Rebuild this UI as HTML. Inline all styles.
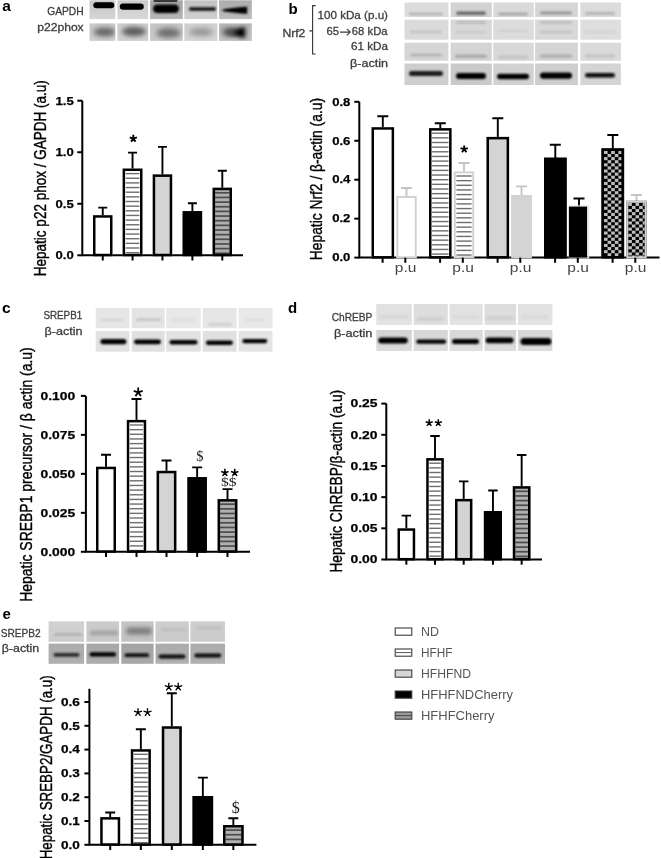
<!DOCTYPE html>
<html><head><meta charset="utf-8"><title>Figure</title><style>
html,body{margin:0;padding:0;background:#fff;width:661px;height:858px;overflow:hidden;}
svg{display:block;filter:blur(0.45px);}
text{font-family:"Liberation Sans",sans-serif;}
</style></head><body>
<svg width="661" height="858" viewBox="0 0 661 858">
<rect width="661" height="858" fill="#fff"/>
<defs>
<filter id="bl0_6" x="-50%" y="-100%" width="200%" height="300%"><feGaussianBlur stdDeviation="0.6"/></filter>
<filter id="bl0_8" x="-50%" y="-100%" width="200%" height="300%"><feGaussianBlur stdDeviation="0.8"/></filter>
<filter id="bl1" x="-50%" y="-100%" width="200%" height="300%"><feGaussianBlur stdDeviation="1"/></filter>
<filter id="bl1_2" x="-50%" y="-100%" width="200%" height="300%"><feGaussianBlur stdDeviation="1.2"/></filter>
<filter id="bl1_5" x="-50%" y="-100%" width="200%" height="300%"><feGaussianBlur stdDeviation="1.5"/></filter>
<filter id="bl1_8" x="-50%" y="-100%" width="200%" height="300%"><feGaussianBlur stdDeviation="1.8"/></filter>
<filter id="bl2" x="-50%" y="-100%" width="200%" height="300%"><feGaussianBlur stdDeviation="2"/></filter>
<filter id="bl2_5" x="-50%" y="-100%" width="200%" height="300%"><feGaussianBlur stdDeviation="2.5"/></filter>
<filter id="bl3" x="-50%" y="-100%" width="200%" height="300%"><feGaussianBlur stdDeviation="3"/></filter>
</defs>
<text x="2.2" y="11.3" font-size="15.5" text-anchor="start" font-weight="bold" fill="#000" >a</text>
<text x="288.6" y="13.6" font-size="15" text-anchor="start" font-weight="bold" fill="#000" >b</text>
<text x="2" y="312.6" font-size="15.5" text-anchor="start" font-weight="bold" fill="#000" >c</text>
<text x="2.5" y="618.8" font-size="15" text-anchor="start" font-weight="bold" fill="#000" >e</text>
<text x="288" y="312.9" font-size="15" text-anchor="start" font-weight="bold" fill="#000" >d</text>
<path d="M82.3 100.7V255.3H243" stroke="#000" stroke-width="2" fill="none"/><path d="M77.3 100.7H82.3" stroke="#000" stroke-width="2"/><text x="73.7" y="104.5" font-size="11.5" text-anchor="end" font-weight="bold" fill="#000" textLength="18.2" lengthAdjust="spacingAndGlyphs" stroke="#000" stroke-width="0.25">1.5</text><path d="M77.3 152.23H82.3" stroke="#000" stroke-width="2"/><text x="73.7" y="156.03" font-size="11.5" text-anchor="end" font-weight="bold" fill="#000" textLength="18.2" lengthAdjust="spacingAndGlyphs" stroke="#000" stroke-width="0.25">1.0</text><path d="M77.3 203.77H82.3" stroke="#000" stroke-width="2"/><text x="73.7" y="207.56" font-size="11.5" text-anchor="end" font-weight="bold" fill="#000" textLength="18.2" lengthAdjust="spacingAndGlyphs" stroke="#000" stroke-width="0.25">0.5</text><path d="M77.3 255.3H82.3" stroke="#000" stroke-width="2"/><text x="73.7" y="259.1" font-size="11.5" text-anchor="end" font-weight="bold" fill="#000" textLength="18.2" lengthAdjust="spacingAndGlyphs" stroke="#000" stroke-width="0.25">0.0</text>
<path d="M102.75 216.2V207.6M98.25 207.6H107.25" stroke="#000" stroke-width="1.9" fill="none"/>
<rect x="93" y="215.2" width="19.5" height="40.1" fill="#fff"/><rect x="94.25" y="216.45" width="17" height="38.55" fill="none" stroke="#000" stroke-width="2.5"/>
<path d="M132.55 169.5V152.6M128.05 152.6H137.05" stroke="#000" stroke-width="1.9" fill="none"/>
<rect x="122.6" y="168.5" width="19.9" height="86.8" fill="#fff"/><rect x="125.7" y="172.9" width="13.7" height="1.4" fill="#6e6e6e"/><rect x="125.7" y="177.55" width="13.7" height="1.4" fill="#6e6e6e"/><rect x="125.7" y="182.2" width="13.7" height="1.4" fill="#6e6e6e"/><rect x="125.7" y="186.85" width="13.7" height="1.4" fill="#6e6e6e"/><rect x="125.7" y="191.5" width="13.7" height="1.4" fill="#6e6e6e"/><rect x="125.7" y="196.15" width="13.7" height="1.4" fill="#6e6e6e"/><rect x="125.7" y="200.8" width="13.7" height="1.4" fill="#6e6e6e"/><rect x="125.7" y="205.45" width="13.7" height="1.4" fill="#6e6e6e"/><rect x="125.7" y="210.1" width="13.7" height="1.4" fill="#6e6e6e"/><rect x="125.7" y="214.75" width="13.7" height="1.4" fill="#6e6e6e"/><rect x="125.7" y="219.4" width="13.7" height="1.4" fill="#6e6e6e"/><rect x="125.7" y="224.05" width="13.7" height="1.4" fill="#6e6e6e"/><rect x="125.7" y="228.7" width="13.7" height="1.4" fill="#6e6e6e"/><rect x="125.7" y="233.35" width="13.7" height="1.4" fill="#6e6e6e"/><rect x="125.7" y="238" width="13.7" height="1.4" fill="#6e6e6e"/><rect x="125.7" y="242.65" width="13.7" height="1.4" fill="#6e6e6e"/><rect x="125.7" y="247.3" width="13.7" height="1.4" fill="#6e6e6e"/><rect x="125.7" y="251.95" width="13.7" height="1.4" fill="#6e6e6e"/><rect x="123.85" y="169.75" width="17.4" height="85.25" fill="none" stroke="#000" stroke-width="2.5"/>
<path d="M162.45 175.4V146.9M157.95 146.9H166.95" stroke="#000" stroke-width="1.9" fill="none"/>
<rect x="152.7" y="174.4" width="19.5" height="80.9" fill="#d4d4d4"/><rect x="153.95" y="175.65" width="17" height="79.35" fill="none" stroke="#000" stroke-width="2.5"/>
<path d="M192.4 212.2V203.3M187.9 203.3H196.9" stroke="#000" stroke-width="1.9" fill="none"/>
<rect x="182.7" y="211.2" width="19.4" height="44.1" fill="#000"/><rect x="183.95" y="212.45" width="16.9" height="42.55" fill="none" stroke="#000" stroke-width="2.5"/>
<path d="M222.3 188.7V170.8M217.8 170.8H226.8" stroke="#000" stroke-width="1.9" fill="none"/>
<rect x="212.6" y="187.7" width="19.4" height="67.6" fill="#b0b0b0"/><rect x="215.1" y="191.95" width="14.4" height="1.7" fill="#4c4c4c"/><rect x="215.1" y="196.6" width="14.4" height="1.7" fill="#4c4c4c"/><rect x="215.1" y="201.25" width="14.4" height="1.7" fill="#4c4c4c"/><rect x="215.1" y="205.9" width="14.4" height="1.7" fill="#4c4c4c"/><rect x="215.1" y="210.55" width="14.4" height="1.7" fill="#4c4c4c"/><rect x="215.1" y="215.2" width="14.4" height="1.7" fill="#4c4c4c"/><rect x="215.1" y="219.85" width="14.4" height="1.7" fill="#4c4c4c"/><rect x="215.1" y="224.5" width="14.4" height="1.7" fill="#4c4c4c"/><rect x="215.1" y="229.15" width="14.4" height="1.7" fill="#4c4c4c"/><rect x="215.1" y="233.8" width="14.4" height="1.7" fill="#4c4c4c"/><rect x="215.1" y="238.45" width="14.4" height="1.7" fill="#4c4c4c"/><rect x="215.1" y="243.1" width="14.4" height="1.7" fill="#4c4c4c"/><rect x="215.1" y="247.75" width="14.4" height="1.7" fill="#4c4c4c"/><rect x="215.1" y="252.4" width="14.4" height="1.7" fill="#4c4c4c"/><rect x="213.85" y="188.95" width="16.9" height="66.05" fill="none" stroke="#000" stroke-width="2.5"/>
<path d="M102.75 255.3V260.5" stroke="#000" stroke-width="2"/><path d="M132.55 255.3V260.5" stroke="#000" stroke-width="2"/><path d="M162.45 255.3V260.5" stroke="#000" stroke-width="2"/><path d="M192.4 255.3V260.5" stroke="#000" stroke-width="2"/><path d="M222.3 255.3V260.5" stroke="#000" stroke-width="2"/>
<path d="M133.3 138.6L133.3 134.8M133.3 138.6L136.91 137.43M133.3 138.6L135.53 141.67M133.3 138.6L131.07 141.67M133.3 138.6L129.69 137.43" stroke="#000" stroke-width="1.9" stroke-linecap="butt" fill="none"/>
<text transform="translate(45.7 276.2) rotate(-90)" x="0" y="0" font-size="16" text-anchor="start" font-weight="normal" fill="#000" stroke="#000" stroke-width="0.38" textLength="196" lengthAdjust="spacingAndGlyphs">Hepatic p22 phox / GAPDH (a.u)</text>
<path d="M359.3 101.8V257.6H659.5" stroke="#000" stroke-width="2" fill="none"/><path d="M354.3 101.8H359.3" stroke="#000" stroke-width="2"/><text x="350.4" y="105.59" font-size="11.5" text-anchor="end" font-weight="bold" fill="#000" textLength="18.2" lengthAdjust="spacingAndGlyphs" stroke="#000" stroke-width="0.25">0.8</text><path d="M354.3 140.75H359.3" stroke="#000" stroke-width="2"/><text x="350.4" y="144.54" font-size="11.5" text-anchor="end" font-weight="bold" fill="#000" textLength="18.2" lengthAdjust="spacingAndGlyphs" stroke="#000" stroke-width="0.25">0.6</text><path d="M354.3 179.7H359.3" stroke="#000" stroke-width="2"/><text x="350.4" y="183.49" font-size="11.5" text-anchor="end" font-weight="bold" fill="#000" textLength="18.2" lengthAdjust="spacingAndGlyphs" stroke="#000" stroke-width="0.25">0.4</text><path d="M354.3 218.65H359.3" stroke="#000" stroke-width="2"/><text x="350.4" y="222.44" font-size="11.5" text-anchor="end" font-weight="bold" fill="#000" textLength="18.2" lengthAdjust="spacingAndGlyphs" stroke="#000" stroke-width="0.25">0.2</text><path d="M354.3 257.6H359.3" stroke="#000" stroke-width="2"/><text x="350.4" y="261.4" font-size="11.5" text-anchor="end" font-weight="bold" fill="#000" textLength="18.2" lengthAdjust="spacingAndGlyphs" stroke="#000" stroke-width="0.25">0.0</text>
<path d="M406.5 196.9V188M401 188H412" stroke="#c4c4c4" stroke-width="1.9" fill="none"/>
<rect x="396.3" y="195.9" width="20.4" height="61.7" fill="#fff"/><rect x="397.3" y="196.9" width="18.4" height="60.4" fill="none" stroke="#d2d2d2" stroke-width="2"/>
<path d="M382.8 128.2V116.3M377.3 116.3H388.3" stroke="#000" stroke-width="1.9" fill="none"/>
<rect x="371.5" y="127.2" width="22.6" height="130.4" fill="#fff"/><rect x="372.75" y="128.45" width="20.1" height="128.85" fill="none" stroke="#000" stroke-width="2.5"/>
<path d="M464 172.4V163M458.5 163H469.5" stroke="#c4c4c4" stroke-width="1.9" fill="none"/>
<rect x="453.8" y="171.4" width="20.4" height="86.2" fill="#fff"/><rect x="456.4" y="175.3" width="15.2" height="1.4" fill="#6e6e6e"/><rect x="456.4" y="179.95" width="15.2" height="1.4" fill="#6e6e6e"/><rect x="456.4" y="184.6" width="15.2" height="1.4" fill="#6e6e6e"/><rect x="456.4" y="189.25" width="15.2" height="1.4" fill="#6e6e6e"/><rect x="456.4" y="193.9" width="15.2" height="1.4" fill="#6e6e6e"/><rect x="456.4" y="198.55" width="15.2" height="1.4" fill="#6e6e6e"/><rect x="456.4" y="203.2" width="15.2" height="1.4" fill="#6e6e6e"/><rect x="456.4" y="207.85" width="15.2" height="1.4" fill="#6e6e6e"/><rect x="456.4" y="212.5" width="15.2" height="1.4" fill="#6e6e6e"/><rect x="456.4" y="217.15" width="15.2" height="1.4" fill="#6e6e6e"/><rect x="456.4" y="221.8" width="15.2" height="1.4" fill="#6e6e6e"/><rect x="456.4" y="226.45" width="15.2" height="1.4" fill="#6e6e6e"/><rect x="456.4" y="231.1" width="15.2" height="1.4" fill="#6e6e6e"/><rect x="456.4" y="235.75" width="15.2" height="1.4" fill="#6e6e6e"/><rect x="456.4" y="240.4" width="15.2" height="1.4" fill="#6e6e6e"/><rect x="456.4" y="245.05" width="15.2" height="1.4" fill="#6e6e6e"/><rect x="456.4" y="249.7" width="15.2" height="1.4" fill="#6e6e6e"/><rect x="456.4" y="254.35" width="15.2" height="1.4" fill="#6e6e6e"/><rect x="454.8" y="172.4" width="18.4" height="84.9" fill="none" stroke="#d2d2d2" stroke-width="2"/>
<path d="M440.3 129.1V123.2M434.8 123.2H445.8" stroke="#000" stroke-width="1.9" fill="none"/>
<rect x="429" y="128.1" width="22.6" height="129.5" fill="#fff"/><rect x="432.1" y="132.5" width="16.4" height="1.4" fill="#6e6e6e"/><rect x="432.1" y="137.15" width="16.4" height="1.4" fill="#6e6e6e"/><rect x="432.1" y="141.8" width="16.4" height="1.4" fill="#6e6e6e"/><rect x="432.1" y="146.45" width="16.4" height="1.4" fill="#6e6e6e"/><rect x="432.1" y="151.1" width="16.4" height="1.4" fill="#6e6e6e"/><rect x="432.1" y="155.75" width="16.4" height="1.4" fill="#6e6e6e"/><rect x="432.1" y="160.4" width="16.4" height="1.4" fill="#6e6e6e"/><rect x="432.1" y="165.05" width="16.4" height="1.4" fill="#6e6e6e"/><rect x="432.1" y="169.7" width="16.4" height="1.4" fill="#6e6e6e"/><rect x="432.1" y="174.35" width="16.4" height="1.4" fill="#6e6e6e"/><rect x="432.1" y="179" width="16.4" height="1.4" fill="#6e6e6e"/><rect x="432.1" y="183.65" width="16.4" height="1.4" fill="#6e6e6e"/><rect x="432.1" y="188.3" width="16.4" height="1.4" fill="#6e6e6e"/><rect x="432.1" y="192.95" width="16.4" height="1.4" fill="#6e6e6e"/><rect x="432.1" y="197.6" width="16.4" height="1.4" fill="#6e6e6e"/><rect x="432.1" y="202.25" width="16.4" height="1.4" fill="#6e6e6e"/><rect x="432.1" y="206.9" width="16.4" height="1.4" fill="#6e6e6e"/><rect x="432.1" y="211.55" width="16.4" height="1.4" fill="#6e6e6e"/><rect x="432.1" y="216.2" width="16.4" height="1.4" fill="#6e6e6e"/><rect x="432.1" y="220.85" width="16.4" height="1.4" fill="#6e6e6e"/><rect x="432.1" y="225.5" width="16.4" height="1.4" fill="#6e6e6e"/><rect x="432.1" y="230.15" width="16.4" height="1.4" fill="#6e6e6e"/><rect x="432.1" y="234.8" width="16.4" height="1.4" fill="#6e6e6e"/><rect x="432.1" y="239.45" width="16.4" height="1.4" fill="#6e6e6e"/><rect x="432.1" y="244.1" width="16.4" height="1.4" fill="#6e6e6e"/><rect x="432.1" y="248.75" width="16.4" height="1.4" fill="#6e6e6e"/><rect x="432.1" y="253.4" width="16.4" height="1.4" fill="#6e6e6e"/><rect x="430.25" y="129.35" width="20.1" height="127.95" fill="none" stroke="#000" stroke-width="2.5"/>
<path d="M521.5 196V186.4M516 186.4H527" stroke="#c4c4c4" stroke-width="1.9" fill="none"/>
<rect x="511.3" y="195" width="20.4" height="62.6" fill="#d4d4d4"/><rect x="512.3" y="196" width="18.4" height="61.3" fill="none" stroke="#d2d2d2" stroke-width="2"/>
<path d="M497.8 137.9V118.2M492.3 118.2H503.3" stroke="#000" stroke-width="1.9" fill="none"/>
<rect x="486.5" y="136.9" width="22.6" height="120.7" fill="#d4d4d4"/><rect x="487.75" y="138.15" width="20.1" height="119.15" fill="none" stroke="#000" stroke-width="2.5"/>
<path d="M579 207.6V198.5M573.5 198.5H584.5" stroke="#000" stroke-width="1.9" fill="none"/>
<rect x="569.5" y="206" width="19" height="51.6" fill="none" stroke="#e6e6e6" stroke-width="1.4"/>
<rect x="568.9" y="206.6" width="18.2" height="51" fill="#000"/>
<path d="M555.3 158.7V144.8M549.8 144.8H560.8" stroke="#000" stroke-width="1.9" fill="none"/>
<rect x="544" y="157.7" width="22.6" height="99.9" fill="#000"/><rect x="545.25" y="158.95" width="20.1" height="98.35" fill="none" stroke="#000" stroke-width="2.5"/>
<path d="M636.5 201.8V195M631 195H642" stroke="#c4c4c4" stroke-width="1.9" fill="none"/>
<rect x="626.3" y="200.8" width="20.4" height="56.8" fill="#000"/><rect x="628.3" y="202.8" width="16.4" height="54.8" fill="#000"/><rect x="628.3" y="202.8" width="3.6" height="3.1" fill="#bdbdbd"/><rect x="635.5" y="202.8" width="3.6" height="3.1" fill="#bdbdbd"/><rect x="642.7" y="202.8" width="2" height="3.1" fill="#bdbdbd"/><rect x="631.9" y="205.9" width="3.6" height="3.1" fill="#bdbdbd"/><rect x="639.1" y="205.9" width="3.6" height="3.1" fill="#bdbdbd"/><rect x="628.3" y="209" width="3.6" height="3.1" fill="#bdbdbd"/><rect x="635.5" y="209" width="3.6" height="3.1" fill="#bdbdbd"/><rect x="642.7" y="209" width="2" height="3.1" fill="#bdbdbd"/><rect x="631.9" y="212.1" width="3.6" height="3.1" fill="#bdbdbd"/><rect x="639.1" y="212.1" width="3.6" height="3.1" fill="#bdbdbd"/><rect x="628.3" y="215.2" width="3.6" height="3.1" fill="#bdbdbd"/><rect x="635.5" y="215.2" width="3.6" height="3.1" fill="#bdbdbd"/><rect x="642.7" y="215.2" width="2" height="3.1" fill="#bdbdbd"/><rect x="631.9" y="218.3" width="3.6" height="3.1" fill="#bdbdbd"/><rect x="639.1" y="218.3" width="3.6" height="3.1" fill="#bdbdbd"/><rect x="628.3" y="221.4" width="3.6" height="3.1" fill="#bdbdbd"/><rect x="635.5" y="221.4" width="3.6" height="3.1" fill="#bdbdbd"/><rect x="642.7" y="221.4" width="2" height="3.1" fill="#bdbdbd"/><rect x="631.9" y="224.5" width="3.6" height="3.1" fill="#bdbdbd"/><rect x="639.1" y="224.5" width="3.6" height="3.1" fill="#bdbdbd"/><rect x="628.3" y="227.6" width="3.6" height="3.1" fill="#bdbdbd"/><rect x="635.5" y="227.6" width="3.6" height="3.1" fill="#bdbdbd"/><rect x="642.7" y="227.6" width="2" height="3.1" fill="#bdbdbd"/><rect x="631.9" y="230.7" width="3.6" height="3.1" fill="#bdbdbd"/><rect x="639.1" y="230.7" width="3.6" height="3.1" fill="#bdbdbd"/><rect x="628.3" y="233.8" width="3.6" height="3.1" fill="#bdbdbd"/><rect x="635.5" y="233.8" width="3.6" height="3.1" fill="#bdbdbd"/><rect x="642.7" y="233.8" width="2" height="3.1" fill="#bdbdbd"/><rect x="631.9" y="236.9" width="3.6" height="3.1" fill="#bdbdbd"/><rect x="639.1" y="236.9" width="3.6" height="3.1" fill="#bdbdbd"/><rect x="628.3" y="240" width="3.6" height="3.1" fill="#bdbdbd"/><rect x="635.5" y="240" width="3.6" height="3.1" fill="#bdbdbd"/><rect x="642.7" y="240" width="2" height="3.1" fill="#bdbdbd"/><rect x="631.9" y="243.1" width="3.6" height="3.1" fill="#bdbdbd"/><rect x="639.1" y="243.1" width="3.6" height="3.1" fill="#bdbdbd"/><rect x="628.3" y="246.2" width="3.6" height="3.1" fill="#bdbdbd"/><rect x="635.5" y="246.2" width="3.6" height="3.1" fill="#bdbdbd"/><rect x="642.7" y="246.2" width="2" height="3.1" fill="#bdbdbd"/><rect x="631.9" y="249.3" width="3.6" height="3.1" fill="#bdbdbd"/><rect x="639.1" y="249.3" width="3.6" height="3.1" fill="#bdbdbd"/><rect x="628.3" y="252.4" width="3.6" height="3.1" fill="#bdbdbd"/><rect x="635.5" y="252.4" width="3.6" height="3.1" fill="#bdbdbd"/><rect x="642.7" y="252.4" width="2" height="3.1" fill="#bdbdbd"/><rect x="631.9" y="255.5" width="3.6" height="2.1" fill="#bdbdbd"/><rect x="639.1" y="255.5" width="3.6" height="2.1" fill="#bdbdbd"/><rect x="627.3" y="201.8" width="18.4" height="55.5" fill="none" stroke="#d2d2d2" stroke-width="2"/>
<path d="M612.8 149.4V135M607.3 135H618.3" stroke="#000" stroke-width="1.9" fill="none"/>
<rect x="601.5" y="148.4" width="22.6" height="109.2" fill="#000"/><rect x="604" y="150.9" width="17.6" height="106.7" fill="#000"/><rect x="604" y="150.9" width="3.6" height="3.1" fill="#bdbdbd"/><rect x="611.2" y="150.9" width="3.6" height="3.1" fill="#bdbdbd"/><rect x="618.4" y="150.9" width="3.2" height="3.1" fill="#bdbdbd"/><rect x="607.6" y="154" width="3.6" height="3.1" fill="#bdbdbd"/><rect x="614.8" y="154" width="3.6" height="3.1" fill="#bdbdbd"/><rect x="604" y="157.1" width="3.6" height="3.1" fill="#bdbdbd"/><rect x="611.2" y="157.1" width="3.6" height="3.1" fill="#bdbdbd"/><rect x="618.4" y="157.1" width="3.2" height="3.1" fill="#bdbdbd"/><rect x="607.6" y="160.2" width="3.6" height="3.1" fill="#bdbdbd"/><rect x="614.8" y="160.2" width="3.6" height="3.1" fill="#bdbdbd"/><rect x="604" y="163.3" width="3.6" height="3.1" fill="#bdbdbd"/><rect x="611.2" y="163.3" width="3.6" height="3.1" fill="#bdbdbd"/><rect x="618.4" y="163.3" width="3.2" height="3.1" fill="#bdbdbd"/><rect x="607.6" y="166.4" width="3.6" height="3.1" fill="#bdbdbd"/><rect x="614.8" y="166.4" width="3.6" height="3.1" fill="#bdbdbd"/><rect x="604" y="169.5" width="3.6" height="3.1" fill="#bdbdbd"/><rect x="611.2" y="169.5" width="3.6" height="3.1" fill="#bdbdbd"/><rect x="618.4" y="169.5" width="3.2" height="3.1" fill="#bdbdbd"/><rect x="607.6" y="172.6" width="3.6" height="3.1" fill="#bdbdbd"/><rect x="614.8" y="172.6" width="3.6" height="3.1" fill="#bdbdbd"/><rect x="604" y="175.7" width="3.6" height="3.1" fill="#bdbdbd"/><rect x="611.2" y="175.7" width="3.6" height="3.1" fill="#bdbdbd"/><rect x="618.4" y="175.7" width="3.2" height="3.1" fill="#bdbdbd"/><rect x="607.6" y="178.8" width="3.6" height="3.1" fill="#bdbdbd"/><rect x="614.8" y="178.8" width="3.6" height="3.1" fill="#bdbdbd"/><rect x="604" y="181.9" width="3.6" height="3.1" fill="#bdbdbd"/><rect x="611.2" y="181.9" width="3.6" height="3.1" fill="#bdbdbd"/><rect x="618.4" y="181.9" width="3.2" height="3.1" fill="#bdbdbd"/><rect x="607.6" y="185" width="3.6" height="3.1" fill="#bdbdbd"/><rect x="614.8" y="185" width="3.6" height="3.1" fill="#bdbdbd"/><rect x="604" y="188.1" width="3.6" height="3.1" fill="#bdbdbd"/><rect x="611.2" y="188.1" width="3.6" height="3.1" fill="#bdbdbd"/><rect x="618.4" y="188.1" width="3.2" height="3.1" fill="#bdbdbd"/><rect x="607.6" y="191.2" width="3.6" height="3.1" fill="#bdbdbd"/><rect x="614.8" y="191.2" width="3.6" height="3.1" fill="#bdbdbd"/><rect x="604" y="194.3" width="3.6" height="3.1" fill="#bdbdbd"/><rect x="611.2" y="194.3" width="3.6" height="3.1" fill="#bdbdbd"/><rect x="618.4" y="194.3" width="3.2" height="3.1" fill="#bdbdbd"/><rect x="607.6" y="197.4" width="3.6" height="3.1" fill="#bdbdbd"/><rect x="614.8" y="197.4" width="3.6" height="3.1" fill="#bdbdbd"/><rect x="604" y="200.5" width="3.6" height="3.1" fill="#bdbdbd"/><rect x="611.2" y="200.5" width="3.6" height="3.1" fill="#bdbdbd"/><rect x="618.4" y="200.5" width="3.2" height="3.1" fill="#bdbdbd"/><rect x="607.6" y="203.6" width="3.6" height="3.1" fill="#bdbdbd"/><rect x="614.8" y="203.6" width="3.6" height="3.1" fill="#bdbdbd"/><rect x="604" y="206.7" width="3.6" height="3.1" fill="#bdbdbd"/><rect x="611.2" y="206.7" width="3.6" height="3.1" fill="#bdbdbd"/><rect x="618.4" y="206.7" width="3.2" height="3.1" fill="#bdbdbd"/><rect x="607.6" y="209.8" width="3.6" height="3.1" fill="#bdbdbd"/><rect x="614.8" y="209.8" width="3.6" height="3.1" fill="#bdbdbd"/><rect x="604" y="212.9" width="3.6" height="3.1" fill="#bdbdbd"/><rect x="611.2" y="212.9" width="3.6" height="3.1" fill="#bdbdbd"/><rect x="618.4" y="212.9" width="3.2" height="3.1" fill="#bdbdbd"/><rect x="607.6" y="216" width="3.6" height="3.1" fill="#bdbdbd"/><rect x="614.8" y="216" width="3.6" height="3.1" fill="#bdbdbd"/><rect x="604" y="219.1" width="3.6" height="3.1" fill="#bdbdbd"/><rect x="611.2" y="219.1" width="3.6" height="3.1" fill="#bdbdbd"/><rect x="618.4" y="219.1" width="3.2" height="3.1" fill="#bdbdbd"/><rect x="607.6" y="222.2" width="3.6" height="3.1" fill="#bdbdbd"/><rect x="614.8" y="222.2" width="3.6" height="3.1" fill="#bdbdbd"/><rect x="604" y="225.3" width="3.6" height="3.1" fill="#bdbdbd"/><rect x="611.2" y="225.3" width="3.6" height="3.1" fill="#bdbdbd"/><rect x="618.4" y="225.3" width="3.2" height="3.1" fill="#bdbdbd"/><rect x="607.6" y="228.4" width="3.6" height="3.1" fill="#bdbdbd"/><rect x="614.8" y="228.4" width="3.6" height="3.1" fill="#bdbdbd"/><rect x="604" y="231.5" width="3.6" height="3.1" fill="#bdbdbd"/><rect x="611.2" y="231.5" width="3.6" height="3.1" fill="#bdbdbd"/><rect x="618.4" y="231.5" width="3.2" height="3.1" fill="#bdbdbd"/><rect x="607.6" y="234.6" width="3.6" height="3.1" fill="#bdbdbd"/><rect x="614.8" y="234.6" width="3.6" height="3.1" fill="#bdbdbd"/><rect x="604" y="237.7" width="3.6" height="3.1" fill="#bdbdbd"/><rect x="611.2" y="237.7" width="3.6" height="3.1" fill="#bdbdbd"/><rect x="618.4" y="237.7" width="3.2" height="3.1" fill="#bdbdbd"/><rect x="607.6" y="240.8" width="3.6" height="3.1" fill="#bdbdbd"/><rect x="614.8" y="240.8" width="3.6" height="3.1" fill="#bdbdbd"/><rect x="604" y="243.9" width="3.6" height="3.1" fill="#bdbdbd"/><rect x="611.2" y="243.9" width="3.6" height="3.1" fill="#bdbdbd"/><rect x="618.4" y="243.9" width="3.2" height="3.1" fill="#bdbdbd"/><rect x="607.6" y="247" width="3.6" height="3.1" fill="#bdbdbd"/><rect x="614.8" y="247" width="3.6" height="3.1" fill="#bdbdbd"/><rect x="604" y="250.1" width="3.6" height="3.1" fill="#bdbdbd"/><rect x="611.2" y="250.1" width="3.6" height="3.1" fill="#bdbdbd"/><rect x="618.4" y="250.1" width="3.2" height="3.1" fill="#bdbdbd"/><rect x="607.6" y="253.2" width="3.6" height="3.1" fill="#bdbdbd"/><rect x="614.8" y="253.2" width="3.6" height="3.1" fill="#bdbdbd"/><rect x="604" y="256.3" width="3.6" height="1.3" fill="#bdbdbd"/><rect x="611.2" y="256.3" width="3.6" height="1.3" fill="#bdbdbd"/><rect x="618.4" y="256.3" width="3.2" height="1.3" fill="#bdbdbd"/><rect x="602.75" y="149.65" width="20.1" height="107.65" fill="none" stroke="#000" stroke-width="2.5"/>
<path d="M382.6 257.6V262.8" stroke="#000" stroke-width="2"/><path d="M405.3 257.6V262.8" stroke="#000" stroke-width="2"/><path d="M440.1 257.6V262.8" stroke="#000" stroke-width="2"/><path d="M462.8 257.6V262.8" stroke="#000" stroke-width="2"/><path d="M497.6 257.6V262.8" stroke="#000" stroke-width="2"/><path d="M520.3 257.6V262.8" stroke="#000" stroke-width="2"/><path d="M555.1 257.6V262.8" stroke="#000" stroke-width="2"/><path d="M577.8 257.6V262.8" stroke="#000" stroke-width="2"/><path d="M612.6 257.6V262.8" stroke="#000" stroke-width="2"/><path d="M635.3 257.6V262.8" stroke="#000" stroke-width="2"/>
<text x="405.6" y="272.3" font-size="12.5" text-anchor="middle" font-weight="normal" fill="#444" textLength="21.6" lengthAdjust="spacingAndGlyphs">p.u</text>
<text x="463.1" y="272.3" font-size="12.5" text-anchor="middle" font-weight="normal" fill="#444" textLength="21.6" lengthAdjust="spacingAndGlyphs">p.u</text>
<text x="520.6" y="272.3" font-size="12.5" text-anchor="middle" font-weight="normal" fill="#444" textLength="21.6" lengthAdjust="spacingAndGlyphs">p.u</text>
<text x="578.1" y="272.3" font-size="12.5" text-anchor="middle" font-weight="normal" fill="#444" textLength="21.6" lengthAdjust="spacingAndGlyphs">p.u</text>
<text x="635.6" y="272.3" font-size="12.5" text-anchor="middle" font-weight="normal" fill="#444" textLength="21.6" lengthAdjust="spacingAndGlyphs">p.u</text>
<path d="M464.2 149.2L464.2 145.4M464.2 149.2L467.81 148.03M464.2 149.2L466.43 152.27M464.2 149.2L461.97 152.27M464.2 149.2L460.59 148.03" stroke="#000" stroke-width="1.9" stroke-linecap="butt" fill="none"/>
<text transform="translate(322.4 260.2) rotate(-90)" x="0" y="0" font-size="16" text-anchor="start" font-weight="normal" fill="#000" stroke="#000" stroke-width="0.38" textLength="162.2" lengthAdjust="spacingAndGlyphs">Hepatic Nrf2 / β-actin (a.u)</text>
<path d="M85.9 395.9V551.8H250" stroke="#000" stroke-width="2" fill="none"/><path d="M80.9 395.9H85.9" stroke="#000" stroke-width="2"/><text x="75.2" y="399.69" font-size="11.5" text-anchor="end" font-weight="bold" fill="#000" textLength="34.6" lengthAdjust="spacingAndGlyphs" stroke="#000" stroke-width="0.25">0.100</text><path d="M80.9 434.88H85.9" stroke="#000" stroke-width="2"/><text x="75.2" y="438.67" font-size="11.5" text-anchor="end" font-weight="bold" fill="#000" textLength="34.6" lengthAdjust="spacingAndGlyphs" stroke="#000" stroke-width="0.25">0.075</text><path d="M80.9 473.85H85.9" stroke="#000" stroke-width="2"/><text x="75.2" y="477.64" font-size="11.5" text-anchor="end" font-weight="bold" fill="#000" textLength="34.6" lengthAdjust="spacingAndGlyphs" stroke="#000" stroke-width="0.25">0.050</text><path d="M80.9 512.82H85.9" stroke="#000" stroke-width="2"/><text x="75.2" y="516.62" font-size="11.5" text-anchor="end" font-weight="bold" fill="#000" textLength="34.6" lengthAdjust="spacingAndGlyphs" stroke="#000" stroke-width="0.25">0.025</text><path d="M80.9 551.8H85.9" stroke="#000" stroke-width="2"/><text x="75.2" y="555.59" font-size="11.5" text-anchor="end" font-weight="bold" fill="#000" textLength="34.6" lengthAdjust="spacingAndGlyphs" stroke="#000" stroke-width="0.25">0.000</text>
<path d="M106 467.7V454.8M101 454.8H111" stroke="#000" stroke-width="1.9" fill="none"/>
<rect x="96" y="466.7" width="20" height="85.1" fill="#fff"/><rect x="97.25" y="467.95" width="17.5" height="83.55" fill="none" stroke="#000" stroke-width="2.5"/>
<path d="M136.5 420.9V399M131.5 399H141.5" stroke="#000" stroke-width="1.9" fill="none"/>
<rect x="126.8" y="419.9" width="19.4" height="131.9" fill="#fff"/><rect x="129.9" y="424.3" width="13.2" height="1.4" fill="#6e6e6e"/><rect x="129.9" y="428.95" width="13.2" height="1.4" fill="#6e6e6e"/><rect x="129.9" y="433.6" width="13.2" height="1.4" fill="#6e6e6e"/><rect x="129.9" y="438.25" width="13.2" height="1.4" fill="#6e6e6e"/><rect x="129.9" y="442.9" width="13.2" height="1.4" fill="#6e6e6e"/><rect x="129.9" y="447.55" width="13.2" height="1.4" fill="#6e6e6e"/><rect x="129.9" y="452.2" width="13.2" height="1.4" fill="#6e6e6e"/><rect x="129.9" y="456.85" width="13.2" height="1.4" fill="#6e6e6e"/><rect x="129.9" y="461.5" width="13.2" height="1.4" fill="#6e6e6e"/><rect x="129.9" y="466.15" width="13.2" height="1.4" fill="#6e6e6e"/><rect x="129.9" y="470.8" width="13.2" height="1.4" fill="#6e6e6e"/><rect x="129.9" y="475.45" width="13.2" height="1.4" fill="#6e6e6e"/><rect x="129.9" y="480.1" width="13.2" height="1.4" fill="#6e6e6e"/><rect x="129.9" y="484.75" width="13.2" height="1.4" fill="#6e6e6e"/><rect x="129.9" y="489.4" width="13.2" height="1.4" fill="#6e6e6e"/><rect x="129.9" y="494.05" width="13.2" height="1.4" fill="#6e6e6e"/><rect x="129.9" y="498.7" width="13.2" height="1.4" fill="#6e6e6e"/><rect x="129.9" y="503.35" width="13.2" height="1.4" fill="#6e6e6e"/><rect x="129.9" y="508" width="13.2" height="1.4" fill="#6e6e6e"/><rect x="129.9" y="512.65" width="13.2" height="1.4" fill="#6e6e6e"/><rect x="129.9" y="517.3" width="13.2" height="1.4" fill="#6e6e6e"/><rect x="129.9" y="521.95" width="13.2" height="1.4" fill="#6e6e6e"/><rect x="129.9" y="526.6" width="13.2" height="1.4" fill="#6e6e6e"/><rect x="129.9" y="531.25" width="13.2" height="1.4" fill="#6e6e6e"/><rect x="129.9" y="535.9" width="13.2" height="1.4" fill="#6e6e6e"/><rect x="129.9" y="540.55" width="13.2" height="1.4" fill="#6e6e6e"/><rect x="129.9" y="545.2" width="13.2" height="1.4" fill="#6e6e6e"/><rect x="129.9" y="549.85" width="13.2" height="1.4" fill="#6e6e6e"/><rect x="128.05" y="421.15" width="16.9" height="130.35" fill="none" stroke="#000" stroke-width="2.5"/>
<path d="M166.5 471.8V460.5M161.5 460.5H171.5" stroke="#000" stroke-width="1.9" fill="none"/>
<rect x="156.6" y="470.8" width="19.8" height="81" fill="#d4d4d4"/><rect x="157.85" y="472.05" width="17.3" height="79.45" fill="none" stroke="#000" stroke-width="2.5"/>
<path d="M197.15 478.2V467.4M192.15 467.4H202.15" stroke="#000" stroke-width="1.9" fill="none"/>
<rect x="187.5" y="477.2" width="19.3" height="74.6" fill="#000"/><rect x="188.75" y="478.45" width="16.8" height="73.05" fill="none" stroke="#000" stroke-width="2.5"/>
<path d="M227.5 500.1V489.1M222.5 489.1H232.5" stroke="#000" stroke-width="1.9" fill="none"/>
<rect x="217.6" y="499.1" width="19.8" height="52.7" fill="#b0b0b0"/><rect x="220.1" y="503.35" width="14.8" height="1.7" fill="#4c4c4c"/><rect x="220.1" y="508" width="14.8" height="1.7" fill="#4c4c4c"/><rect x="220.1" y="512.65" width="14.8" height="1.7" fill="#4c4c4c"/><rect x="220.1" y="517.3" width="14.8" height="1.7" fill="#4c4c4c"/><rect x="220.1" y="521.95" width="14.8" height="1.7" fill="#4c4c4c"/><rect x="220.1" y="526.6" width="14.8" height="1.7" fill="#4c4c4c"/><rect x="220.1" y="531.25" width="14.8" height="1.7" fill="#4c4c4c"/><rect x="220.1" y="535.9" width="14.8" height="1.7" fill="#4c4c4c"/><rect x="220.1" y="540.55" width="14.8" height="1.7" fill="#4c4c4c"/><rect x="220.1" y="545.2" width="14.8" height="1.7" fill="#4c4c4c"/><rect x="218.85" y="500.35" width="17.3" height="51.15" fill="none" stroke="#000" stroke-width="2.5"/>
<path d="M106 551.8V557" stroke="#000" stroke-width="2"/><path d="M136.5 551.8V557" stroke="#000" stroke-width="2"/><path d="M166.5 551.8V557" stroke="#000" stroke-width="2"/><path d="M197.15 551.8V557" stroke="#000" stroke-width="2"/><path d="M227.5 551.8V557" stroke="#000" stroke-width="2"/>
<path d="M138.2 392.3L138.2 387.6M138.2 392.3L142.67 390.85M138.2 392.3L140.96 396.1M138.2 392.3L135.44 396.1M138.2 392.3L133.73 390.85" stroke="#000" stroke-width="1.8" stroke-linecap="butt" fill="none"/>
<text x="199.9" y="460.6" font-size="14.5" text-anchor="middle" fill="#1a1a1a" style="font-family:Liberation Serif,serif">$</text>
<path d="M224.9 472.7L224.9 468.8M224.9 472.7L228.61 471.49M224.9 472.7L227.19 475.86M224.9 472.7L222.61 475.86M224.9 472.7L221.19 471.49" stroke="#000" stroke-width="1.5" stroke-linecap="butt" fill="none"/>
<path d="M234.7 472.7L234.7 468.8M234.7 472.7L238.41 471.49M234.7 472.7L236.99 475.86M234.7 472.7L232.41 475.86M234.7 472.7L230.99 471.49" stroke="#000" stroke-width="1.5" stroke-linecap="butt" fill="none"/>
<text x="228.8" y="486.4" font-size="11.5" text-anchor="middle" fill="#1a1a1a" textLength="15.5" lengthAdjust="spacingAndGlyphs" style="font-family:Liberation Serif,serif">$$</text>
<text transform="translate(31.7 601.8) rotate(-90)" x="0" y="0" font-size="16" text-anchor="start" font-weight="normal" fill="#000" stroke="#000" stroke-width="0.38" textLength="254.5" lengthAdjust="spacingAndGlyphs">Hepatic SREBP1 precursor  / β actin (a.u)</text>
<path d="M386.3 403.6V559.5H542" stroke="#000" stroke-width="2" fill="none"/><path d="M381.3 403.6H386.3" stroke="#000" stroke-width="2"/><text x="377.5" y="407.4" font-size="11.5" text-anchor="end" font-weight="bold" fill="#000" textLength="27" lengthAdjust="spacingAndGlyphs" stroke="#000" stroke-width="0.25">0.25</text><path d="M381.3 434.78H386.3" stroke="#000" stroke-width="2"/><text x="377.5" y="438.58" font-size="11.5" text-anchor="end" font-weight="bold" fill="#000" textLength="27" lengthAdjust="spacingAndGlyphs" stroke="#000" stroke-width="0.25">0.20</text><path d="M381.3 465.96H386.3" stroke="#000" stroke-width="2"/><text x="377.5" y="469.76" font-size="11.5" text-anchor="end" font-weight="bold" fill="#000" textLength="27" lengthAdjust="spacingAndGlyphs" stroke="#000" stroke-width="0.25">0.15</text><path d="M381.3 497.14H386.3" stroke="#000" stroke-width="2"/><text x="377.5" y="500.94" font-size="11.5" text-anchor="end" font-weight="bold" fill="#000" textLength="27" lengthAdjust="spacingAndGlyphs" stroke="#000" stroke-width="0.25">0.10</text><path d="M381.3 528.32H386.3" stroke="#000" stroke-width="2"/><text x="377.5" y="532.12" font-size="11.5" text-anchor="end" font-weight="bold" fill="#000" textLength="27" lengthAdjust="spacingAndGlyphs" stroke="#000" stroke-width="0.25">0.05</text><path d="M381.3 559.5H386.3" stroke="#000" stroke-width="2"/><text x="377.5" y="563.29" font-size="11.5" text-anchor="end" font-weight="bold" fill="#000" textLength="27" lengthAdjust="spacingAndGlyphs" stroke="#000" stroke-width="0.25">0.00</text>
<path d="M406.35 529.3V515.6M401.6 515.6H411.1" stroke="#000" stroke-width="1.9" fill="none"/>
<rect x="397.5" y="528.3" width="17.7" height="31.2" fill="#fff"/><rect x="398.75" y="529.55" width="15.2" height="29.65" fill="none" stroke="#000" stroke-width="2.5"/>
<path d="M435 459.1V436M430.25 436H439.75" stroke="#000" stroke-width="1.9" fill="none"/>
<rect x="426.2" y="458.1" width="17.6" height="101.4" fill="#fff"/><rect x="429.3" y="462.5" width="11.4" height="1.4" fill="#6e6e6e"/><rect x="429.3" y="467.15" width="11.4" height="1.4" fill="#6e6e6e"/><rect x="429.3" y="471.8" width="11.4" height="1.4" fill="#6e6e6e"/><rect x="429.3" y="476.45" width="11.4" height="1.4" fill="#6e6e6e"/><rect x="429.3" y="481.1" width="11.4" height="1.4" fill="#6e6e6e"/><rect x="429.3" y="485.75" width="11.4" height="1.4" fill="#6e6e6e"/><rect x="429.3" y="490.4" width="11.4" height="1.4" fill="#6e6e6e"/><rect x="429.3" y="495.05" width="11.4" height="1.4" fill="#6e6e6e"/><rect x="429.3" y="499.7" width="11.4" height="1.4" fill="#6e6e6e"/><rect x="429.3" y="504.35" width="11.4" height="1.4" fill="#6e6e6e"/><rect x="429.3" y="509" width="11.4" height="1.4" fill="#6e6e6e"/><rect x="429.3" y="513.65" width="11.4" height="1.4" fill="#6e6e6e"/><rect x="429.3" y="518.3" width="11.4" height="1.4" fill="#6e6e6e"/><rect x="429.3" y="522.95" width="11.4" height="1.4" fill="#6e6e6e"/><rect x="429.3" y="527.6" width="11.4" height="1.4" fill="#6e6e6e"/><rect x="429.3" y="532.25" width="11.4" height="1.4" fill="#6e6e6e"/><rect x="429.3" y="536.9" width="11.4" height="1.4" fill="#6e6e6e"/><rect x="429.3" y="541.55" width="11.4" height="1.4" fill="#6e6e6e"/><rect x="429.3" y="546.2" width="11.4" height="1.4" fill="#6e6e6e"/><rect x="429.3" y="550.85" width="11.4" height="1.4" fill="#6e6e6e"/><rect x="429.3" y="555.5" width="11.4" height="1.4" fill="#6e6e6e"/><rect x="427.45" y="459.35" width="15.1" height="99.85" fill="none" stroke="#000" stroke-width="2.5"/>
<path d="M463.7 499.9V481.4M458.95 481.4H468.45" stroke="#000" stroke-width="1.9" fill="none"/>
<rect x="455" y="498.9" width="17.4" height="60.6" fill="#d4d4d4"/><rect x="456.25" y="500.15" width="14.9" height="59.05" fill="none" stroke="#000" stroke-width="2.5"/>
<path d="M492.95 512V490.5M488.2 490.5H497.7" stroke="#000" stroke-width="1.9" fill="none"/>
<rect x="483.9" y="511" width="18.1" height="48.5" fill="#000"/><rect x="485.15" y="512.25" width="15.6" height="46.95" fill="none" stroke="#000" stroke-width="2.5"/>
<path d="M521.65 487.2V455M516.9 455H526.4" stroke="#000" stroke-width="1.9" fill="none"/>
<rect x="512.8" y="486.2" width="17.7" height="73.3" fill="#b0b0b0"/><rect x="515.3" y="490.45" width="12.7" height="1.7" fill="#4c4c4c"/><rect x="515.3" y="495.1" width="12.7" height="1.7" fill="#4c4c4c"/><rect x="515.3" y="499.75" width="12.7" height="1.7" fill="#4c4c4c"/><rect x="515.3" y="504.4" width="12.7" height="1.7" fill="#4c4c4c"/><rect x="515.3" y="509.05" width="12.7" height="1.7" fill="#4c4c4c"/><rect x="515.3" y="513.7" width="12.7" height="1.7" fill="#4c4c4c"/><rect x="515.3" y="518.35" width="12.7" height="1.7" fill="#4c4c4c"/><rect x="515.3" y="523" width="12.7" height="1.7" fill="#4c4c4c"/><rect x="515.3" y="527.65" width="12.7" height="1.7" fill="#4c4c4c"/><rect x="515.3" y="532.3" width="12.7" height="1.7" fill="#4c4c4c"/><rect x="515.3" y="536.95" width="12.7" height="1.7" fill="#4c4c4c"/><rect x="515.3" y="541.6" width="12.7" height="1.7" fill="#4c4c4c"/><rect x="515.3" y="546.25" width="12.7" height="1.7" fill="#4c4c4c"/><rect x="515.3" y="550.9" width="12.7" height="1.7" fill="#4c4c4c"/><rect x="515.3" y="555.55" width="12.7" height="1.7" fill="#4c4c4c"/><rect x="514.05" y="487.45" width="15.2" height="71.75" fill="none" stroke="#000" stroke-width="2.5"/>
<path d="M406.35 559.5V564.7" stroke="#000" stroke-width="2"/><path d="M435 559.5V564.7" stroke="#000" stroke-width="2"/><path d="M463.7 559.5V564.7" stroke="#000" stroke-width="2"/><path d="M492.95 559.5V564.7" stroke="#000" stroke-width="2"/><path d="M521.65 559.5V564.7" stroke="#000" stroke-width="2"/>
<path d="M429.2 422.9L429.2 419.2M429.2 422.9L432.72 421.76M429.2 422.9L431.37 425.89M429.2 422.9L427.03 425.89M429.2 422.9L425.68 421.76" stroke="#000" stroke-width="1.5" stroke-linecap="butt" fill="none"/>
<path d="M438.3 422.9L438.3 419.2M438.3 422.9L441.82 421.76M438.3 422.9L440.47 425.89M438.3 422.9L436.13 425.89M438.3 422.9L434.78 421.76" stroke="#000" stroke-width="1.5" stroke-linecap="butt" fill="none"/>
<text transform="translate(341.7 572.6) rotate(-90)" x="0" y="0" font-size="16" text-anchor="start" font-weight="normal" fill="#000" stroke="#000" stroke-width="0.38" textLength="182.8" lengthAdjust="spacingAndGlyphs">Hepatic ChREBP/β-actin (a.u)</text>
<path d="M89.4 688.8V844.8H256.4" stroke="#000" stroke-width="2" fill="none"/><path d="M84.4 702H89.4" stroke="#000" stroke-width="2"/><text x="79.9" y="705.79" font-size="11.5" text-anchor="end" font-weight="bold" fill="#000" textLength="18.9" lengthAdjust="spacingAndGlyphs" stroke="#000" stroke-width="0.25">0.6</text><path d="M84.4 725.8H89.4" stroke="#000" stroke-width="2"/><text x="79.9" y="729.59" font-size="11.5" text-anchor="end" font-weight="bold" fill="#000" textLength="18.9" lengthAdjust="spacingAndGlyphs" stroke="#000" stroke-width="0.25">0.5</text><path d="M84.4 749.6H89.4" stroke="#000" stroke-width="2"/><text x="79.9" y="753.39" font-size="11.5" text-anchor="end" font-weight="bold" fill="#000" textLength="18.9" lengthAdjust="spacingAndGlyphs" stroke="#000" stroke-width="0.25">0.4</text><path d="M84.4 773.4H89.4" stroke="#000" stroke-width="2"/><text x="79.9" y="777.19" font-size="11.5" text-anchor="end" font-weight="bold" fill="#000" textLength="18.9" lengthAdjust="spacingAndGlyphs" stroke="#000" stroke-width="0.25">0.3</text><path d="M84.4 797.2H89.4" stroke="#000" stroke-width="2"/><text x="79.9" y="800.99" font-size="11.5" text-anchor="end" font-weight="bold" fill="#000" textLength="18.9" lengthAdjust="spacingAndGlyphs" stroke="#000" stroke-width="0.25">0.2</text><path d="M84.4 821H89.4" stroke="#000" stroke-width="2"/><text x="79.9" y="824.79" font-size="11.5" text-anchor="end" font-weight="bold" fill="#000" textLength="18.9" lengthAdjust="spacingAndGlyphs" stroke="#000" stroke-width="0.25">0.1</text><path d="M84.4 844.8H89.4" stroke="#000" stroke-width="2"/><text x="79.9" y="848.59" font-size="11.5" text-anchor="end" font-weight="bold" fill="#000" textLength="18.9" lengthAdjust="spacingAndGlyphs" stroke="#000" stroke-width="0.25">0.0</text>
<path d="M110.2 818.1V812.5M105.2 812.5H115.2" stroke="#000" stroke-width="1.9" fill="none"/>
<rect x="100.2" y="817.1" width="20" height="27.7" fill="#fff"/><rect x="101.45" y="818.35" width="17.5" height="26.15" fill="none" stroke="#000" stroke-width="2.5"/>
<path d="M140.85 750.2V729.3M135.85 729.3H145.85" stroke="#000" stroke-width="1.9" fill="none"/>
<rect x="130.8" y="749.2" width="20.1" height="95.6" fill="#fff"/><rect x="133.9" y="753.6" width="13.9" height="1.4" fill="#6e6e6e"/><rect x="133.9" y="758.25" width="13.9" height="1.4" fill="#6e6e6e"/><rect x="133.9" y="762.9" width="13.9" height="1.4" fill="#6e6e6e"/><rect x="133.9" y="767.55" width="13.9" height="1.4" fill="#6e6e6e"/><rect x="133.9" y="772.2" width="13.9" height="1.4" fill="#6e6e6e"/><rect x="133.9" y="776.85" width="13.9" height="1.4" fill="#6e6e6e"/><rect x="133.9" y="781.5" width="13.9" height="1.4" fill="#6e6e6e"/><rect x="133.9" y="786.15" width="13.9" height="1.4" fill="#6e6e6e"/><rect x="133.9" y="790.8" width="13.9" height="1.4" fill="#6e6e6e"/><rect x="133.9" y="795.45" width="13.9" height="1.4" fill="#6e6e6e"/><rect x="133.9" y="800.1" width="13.9" height="1.4" fill="#6e6e6e"/><rect x="133.9" y="804.75" width="13.9" height="1.4" fill="#6e6e6e"/><rect x="133.9" y="809.4" width="13.9" height="1.4" fill="#6e6e6e"/><rect x="133.9" y="814.05" width="13.9" height="1.4" fill="#6e6e6e"/><rect x="133.9" y="818.7" width="13.9" height="1.4" fill="#6e6e6e"/><rect x="133.9" y="823.35" width="13.9" height="1.4" fill="#6e6e6e"/><rect x="133.9" y="828" width="13.9" height="1.4" fill="#6e6e6e"/><rect x="133.9" y="832.65" width="13.9" height="1.4" fill="#6e6e6e"/><rect x="133.9" y="837.3" width="13.9" height="1.4" fill="#6e6e6e"/><rect x="133.9" y="841.95" width="13.9" height="1.4" fill="#6e6e6e"/><rect x="132.05" y="750.45" width="17.6" height="94.05" fill="none" stroke="#000" stroke-width="2.5"/>
<path d="M171.8 727.3V693.3M166.8 693.3H176.8" stroke="#000" stroke-width="1.9" fill="none"/>
<rect x="161.8" y="726.3" width="20" height="118.5" fill="#d4d4d4"/><rect x="163.05" y="727.55" width="17.5" height="116.95" fill="none" stroke="#000" stroke-width="2.5"/>
<path d="M202.85 797V777.6M197.85 777.6H207.85" stroke="#000" stroke-width="1.9" fill="none"/>
<rect x="192.6" y="796" width="20.5" height="48.8" fill="#000"/><rect x="193.85" y="797.25" width="18" height="47.25" fill="none" stroke="#000" stroke-width="2.5"/>
<path d="M233.35 826V818.3M228.35 818.3H238.35" stroke="#000" stroke-width="1.9" fill="none"/>
<rect x="223" y="825" width="20.7" height="19.8" fill="#b0b0b0"/><rect x="225.5" y="829.25" width="15.7" height="1.7" fill="#4c4c4c"/><rect x="225.5" y="833.9" width="15.7" height="1.7" fill="#4c4c4c"/><rect x="225.5" y="838.55" width="15.7" height="1.7" fill="#4c4c4c"/><rect x="224.25" y="826.25" width="18.2" height="18.25" fill="none" stroke="#000" stroke-width="2.5"/>
<path d="M110.2 844.8V850" stroke="#000" stroke-width="2"/><path d="M140.85 844.8V850" stroke="#000" stroke-width="2"/><path d="M171.8 844.8V850" stroke="#000" stroke-width="2"/><path d="M202.85 844.8V850" stroke="#000" stroke-width="2"/><path d="M233.35 844.8V850" stroke="#000" stroke-width="2"/>
<path d="M138 712.4L138 708.2M138 712.4L141.99 711.1M138 712.4L140.47 715.8M138 712.4L135.53 715.8M138 712.4L134.01 711.1" stroke="#000" stroke-width="1.35" stroke-linecap="butt" fill="none"/>
<path d="M147.5 712.4L147.5 708.2M147.5 712.4L151.49 711.1M147.5 712.4L149.97 715.8M147.5 712.4L145.03 715.8M147.5 712.4L143.51 711.1" stroke="#000" stroke-width="1.35" stroke-linecap="butt" fill="none"/>
<path d="M168.8 686.9L168.8 682.7M168.8 686.9L172.79 685.6M168.8 686.9L171.27 690.3M168.8 686.9L166.33 690.3M168.8 686.9L164.81 685.6" stroke="#000" stroke-width="1.35" stroke-linecap="butt" fill="none"/>
<path d="M178.2 686.9L178.2 682.7M178.2 686.9L182.19 685.6M178.2 686.9L180.67 690.3M178.2 686.9L175.73 690.3M178.2 686.9L174.21 685.6" stroke="#000" stroke-width="1.35" stroke-linecap="butt" fill="none"/>
<text x="235.7" y="812.6" font-size="16" text-anchor="middle" fill="#1a1a1a" style="font-family:Liberation Serif,serif">$</text>
<text transform="translate(51.6 859.3) rotate(-90)" x="0" y="0" font-size="16" text-anchor="start" font-weight="normal" fill="#000" stroke="#000" stroke-width="0.38" textLength="184" lengthAdjust="spacingAndGlyphs">Hepatic SREBP2/GAPDH (a.u)</text>
<rect x="395.2" y="628" width="16.6" height="7.2" fill="#fff" stroke="#3c3c3c" stroke-width="1.1"/>
<text x="421" y="635.8" font-size="13" text-anchor="start" font-weight="normal" fill="#555" textLength="18" lengthAdjust="spacingAndGlyphs">ND</text>
<rect x="395.2" y="649" width="16.6" height="7.2" fill="#fff" stroke="#3c3c3c" stroke-width="1.1"/>
<path d="M395.7 652.6H411.3" stroke="#555" stroke-width="1"/>
<text x="421" y="656.8" font-size="13" text-anchor="start" font-weight="normal" fill="#555" textLength="31.5" lengthAdjust="spacingAndGlyphs">HFHF</text>
<rect x="395.2" y="670" width="16.6" height="7.2" fill="#d6d6d6" stroke="#3c3c3c" stroke-width="1.1"/>
<text x="421" y="677.8" font-size="13" text-anchor="start" font-weight="normal" fill="#555" textLength="50" lengthAdjust="spacingAndGlyphs">HFHFND</text>
<rect x="395.2" y="691" width="16.6" height="7.2" fill="#000" stroke="#3c3c3c" stroke-width="1.1"/>
<text x="421" y="698.8" font-size="13" text-anchor="start" font-weight="normal" fill="#555" textLength="92" lengthAdjust="spacingAndGlyphs">HFHFNDCherry</text>
<rect x="395.2" y="712" width="16.6" height="7.2" fill="#9a9a9a" stroke="#3c3c3c" stroke-width="1.1"/>
<path d="M395.7 715.6H411.3" stroke="#444" stroke-width="1"/>
<text x="421" y="719.8" font-size="13" text-anchor="start" font-weight="normal" fill="#555" textLength="73.5" lengthAdjust="spacingAndGlyphs">HFHFCherry</text>
<linearGradient id="g123_895" x1="0" y1="0" x2="0" y2="1"><stop offset="0" stop-color="#c6c6c6"/><stop offset="1" stop-color="#d6d6d6"/></linearGradient><rect x="89.5" y="0.3" width="25.8" height="18.8" fill="url(#g123_895)"/><clipPath id="c895_3"><rect x="89.5" y="0.3" width="25.8" height="18.8"/></clipPath><g clip-path="url(#c895_3)"><rect x="93.3" y="2.2" width="21" height="6" rx="3" fill="#000" opacity="1" filter="url(#bl0_9)"/></g>
<linearGradient id="g124_1174" x1="0" y1="0" x2="0" y2="1"><stop offset="0" stop-color="#cbcbcb"/><stop offset="1" stop-color="#d8d8d8"/></linearGradient><rect x="117.4" y="0.3" width="30.8" height="18.8" fill="url(#g124_1174)"/><clipPath id="c1174_3"><rect x="117.4" y="0.3" width="30.8" height="18.8"/></clipPath><g clip-path="url(#c1174_3)"><rect x="119.8" y="3.4" width="24" height="6.4" rx="3.2" fill="#000" opacity="1" filter="url(#bl0_9)"/></g>
<linearGradient id="g125_1501" x1="0" y1="0" x2="0" y2="1"><stop offset="0" stop-color="#a4a4a4"/><stop offset="1" stop-color="#b6b6b6"/></linearGradient><rect x="150.1" y="0.3" width="32.7" height="18.8" fill="url(#g125_1501)"/><clipPath id="c1501_3"><rect x="150.1" y="0.3" width="32.7" height="18.8"/></clipPath><g clip-path="url(#c1501_3)"><rect x="153" y="4.6" width="26" height="8.4" rx="4.2" fill="#000" opacity="1" filter="url(#bl1)"/><rect x="153.5" y="-0.6" width="24" height="2.4" rx="1.2" fill="#111" opacity="1" filter="url(#bl0_7)"/></g>
<linearGradient id="g126_1843" x1="0" y1="0" x2="0" y2="1"><stop offset="0" stop-color="#c2c2c2"/><stop offset="1" stop-color="#d0d0d0"/></linearGradient><rect x="184.3" y="0.3" width="33" height="18.8" fill="url(#g126_1843)"/><clipPath id="c1843_3"><rect x="184.3" y="0.3" width="33" height="18.8"/></clipPath><g clip-path="url(#c1843_3)"><rect x="189" y="7.3" width="27" height="3.4" rx="1.7" fill="#0a0a0a" opacity="1" filter="url(#bl0_8)"/></g>
<linearGradient id="g127_2191" x1="0" y1="0" x2="0" y2="1"><stop offset="0" stop-color="#acacac"/><stop offset="1" stop-color="#bdbdbd"/></linearGradient><rect x="219.1" y="0.3" width="32.7" height="18.8" fill="url(#g127_2191)"/><clipPath id="c2191_3"><rect x="219.1" y="0.3" width="32.7" height="18.8"/></clipPath><g clip-path="url(#c2191_3)"><path d="M221.5 10.3C221.5 8.9 242.5 6.8 247.17 6.8L247.17 13.8C242.5 13.8 221.5 11.7 221.5 10.3Z" fill="#000" opacity="1" filter="url(#bl1_2)"/></g>
<linearGradient id="g128_918" x1="0" y1="0" x2="0" y2="1"><stop offset="0" stop-color="#cbcbcb"/><stop offset="1" stop-color="#cfcfcf"/></linearGradient><rect x="89.5" y="23.4" width="25.8" height="17.5" fill="url(#g128_918)"/><clipPath id="c895_234"><rect x="89.5" y="23.4" width="25.8" height="17.5"/></clipPath><g clip-path="url(#c895_234)"><ellipse cx="104.5" cy="32" rx="11" ry="4.5" fill="#686868" opacity="1" filter="url(#bl2_5)"/></g>
<linearGradient id="g129_1197" x1="0" y1="0" x2="0" y2="1"><stop offset="0" stop-color="#cdcdcd"/><stop offset="1" stop-color="#d2d2d2"/></linearGradient><rect x="117.4" y="23.4" width="30.8" height="17.5" fill="url(#g129_1197)"/><clipPath id="c1174_234"><rect x="117.4" y="23.4" width="30.8" height="17.5"/></clipPath><g clip-path="url(#c1174_234)"><ellipse cx="134" cy="31.5" rx="12" ry="4.5" fill="#585858" opacity="1" filter="url(#bl2_5)"/></g>
<linearGradient id="g130_1524" x1="0" y1="0" x2="0" y2="1"><stop offset="0" stop-color="#c4c4c4"/><stop offset="1" stop-color="#cacaca"/></linearGradient><rect x="150.1" y="23.4" width="32.7" height="17.5" fill="url(#g130_1524)"/><clipPath id="c1501_234"><rect x="150.1" y="23.4" width="32.7" height="17.5"/></clipPath><g clip-path="url(#c1501_234)"><ellipse cx="168.5" cy="33" rx="12" ry="5" fill="#707070" opacity="1" filter="url(#bl2_5)"/></g>
<linearGradient id="g131_1866" x1="0" y1="0" x2="0" y2="1"><stop offset="0" stop-color="#cfcfcf"/><stop offset="1" stop-color="#d4d4d4"/></linearGradient><rect x="184.3" y="23.4" width="33" height="17.5" fill="url(#g131_1866)"/><clipPath id="c1843_234"><rect x="184.3" y="23.4" width="33" height="17.5"/></clipPath><g clip-path="url(#c1843_234)"><ellipse cx="201" cy="32" rx="12" ry="4" fill="#979797" opacity="1" filter="url(#bl2_5)"/></g>
<linearGradient id="g132_2214" x1="0" y1="0" x2="0" y2="1"><stop offset="0" stop-color="#b8b8b8"/><stop offset="1" stop-color="#c2c2c2"/></linearGradient><rect x="219.1" y="23.4" width="32.7" height="17.5" fill="url(#g132_2214)"/><clipPath id="c2191_234"><rect x="219.1" y="23.4" width="32.7" height="17.5"/></clipPath><g clip-path="url(#c2191_234)"><path d="M227 32.5C227 30.3 243.5 27 245.33 27L245.33 38C243.5 38 227 34.7 227 32.5Z" fill="#000" opacity="1" filter="url(#bl2)"/><ellipse cx="229" cy="32" rx="7" ry="4" fill="#555" opacity="1" filter="url(#bl2_5)"/></g>
<text x="83.7" y="15" font-size="11" text-anchor="end" font-weight="normal" fill="#3d3d3d" textLength="36.5" lengthAdjust="spacingAndGlyphs" stroke="#3d3d3d" stroke-width="0.3">GAPDH</text>
<text x="83.7" y="30.8" font-size="11" text-anchor="end" font-weight="normal" fill="#3d3d3d" textLength="46.5" lengthAdjust="spacingAndGlyphs" stroke="#3d3d3d" stroke-width="0.3">p22phox</text>
<rect x="404.5" y="2.5" width="43.9" height="14.5" fill="#dcdcdc"/><clipPath id="c4045_25"><rect x="404.5" y="2.5" width="43.9" height="14.5"/></clipPath><g clip-path="url(#c4045_25)"><rect x="409" y="12.7" width="34" height="2.6" rx="1.3" fill="#b0b0b0" opacity="1" filter="url(#bl1)"/></g>
<rect x="450.7" y="2.5" width="41.1" height="14.5" fill="#d2d2d2"/><clipPath id="c4507_25"><rect x="450.7" y="2.5" width="41.1" height="14.5"/></clipPath><g clip-path="url(#c4507_25)"><rect x="456" y="11.4" width="30" height="3.6" rx="1.8" fill="#6a6a6a" opacity="1" filter="url(#bl0_8)"/></g>
<rect x="493.3" y="2.5" width="40.5" height="14.5" fill="#dadada"/><clipPath id="c4933_25"><rect x="493.3" y="2.5" width="40.5" height="14.5"/></clipPath><g clip-path="url(#c4933_25)"><rect x="498" y="12.5" width="30" height="3" rx="1.5" fill="#a8a8a8" opacity="1" filter="url(#bl1)"/></g>
<rect x="535.1" y="2.5" width="42.8" height="14.5" fill="#d6d6d6"/><clipPath id="c5351_25"><rect x="535.1" y="2.5" width="42.8" height="14.5"/></clipPath><g clip-path="url(#c5351_25)"><rect x="540" y="11.5" width="32" height="3" rx="1.5" fill="#959595" opacity="1" filter="url(#bl1)"/></g>
<rect x="580.4" y="2.5" width="40.5" height="14.5" fill="#dcdcdc"/><clipPath id="c5804_25"><rect x="580.4" y="2.5" width="40.5" height="14.5"/></clipPath><g clip-path="url(#c5804_25)"><rect x="585" y="12.1" width="30" height="2.6" rx="1.3" fill="#b2b2b2" opacity="1" filter="url(#bl1)"/></g>
<rect x="404.5" y="19.7" width="43.9" height="20" fill="#dadada"/><clipPath id="c4045_197"><rect x="404.5" y="19.7" width="43.9" height="20"/></clipPath><g clip-path="url(#c4045_197)"><rect x="410" y="30.7" width="32" height="2.6" rx="1.3" fill="#c2c2c2" opacity="1" filter="url(#bl1)"/></g>
<rect x="450.7" y="19.7" width="41.1" height="20" fill="#d8d8d8"/><clipPath id="c4507_197"><rect x="450.7" y="19.7" width="41.1" height="20"/></clipPath><g clip-path="url(#c4507_197)"><rect x="456" y="21" width="30" height="3" rx="1.5" fill="#bcbcbc" opacity="1" filter="url(#bl1)"/><rect x="456" y="30.75" width="30" height="2.5" rx="1.25" fill="#cacaca" opacity="1" filter="url(#bl1)"/></g>
<rect x="493.3" y="19.7" width="40.5" height="20" fill="#dcdcdc"/><clipPath id="c4933_197"><rect x="493.3" y="19.7" width="40.5" height="20"/></clipPath><g clip-path="url(#c4933_197)"><rect x="498" y="29.75" width="30" height="2.5" rx="1.25" fill="#d0d0d0" opacity="1" filter="url(#bl1)"/></g>
<rect x="535.1" y="19.7" width="42.8" height="20" fill="#d8d8d8"/><clipPath id="c5351_197"><rect x="535.1" y="19.7" width="42.8" height="20"/></clipPath><g clip-path="url(#c5351_197)"><rect x="540" y="21" width="32" height="3" rx="1.5" fill="#bebebe" opacity="1" filter="url(#bl1)"/><rect x="540" y="30.7" width="32" height="2.6" rx="1.3" fill="#c0c0c0" opacity="1" filter="url(#bl1)"/></g>
<rect x="580.4" y="19.7" width="40.5" height="20" fill="#dedede"/><clipPath id="c5804_197"><rect x="580.4" y="19.7" width="40.5" height="20"/></clipPath><g clip-path="url(#c5804_197)"><rect x="585" y="30.75" width="30" height="2.5" rx="1.25" fill="#d2d2d2" opacity="1" filter="url(#bl1)"/></g>
<rect x="404.5" y="42.7" width="43.9" height="18.1" fill="#d6d6d6"/><clipPath id="c4045_427"><rect x="404.5" y="42.7" width="43.9" height="18.1"/></clipPath><g clip-path="url(#c4045_427)"><rect x="410" y="53.5" width="32" height="3" rx="1.5" fill="#b4b4b4" opacity="1" filter="url(#bl1)"/></g>
<rect x="450.7" y="42.7" width="41.1" height="18.1" fill="#d4d4d4"/><clipPath id="c4507_427"><rect x="450.7" y="42.7" width="41.1" height="18.1"/></clipPath><g clip-path="url(#c4507_427)"><rect x="455" y="54.5" width="32" height="3.4" rx="1.7" fill="#ababab" opacity="1" filter="url(#bl1)"/></g>
<rect x="493.3" y="42.7" width="40.5" height="18.1" fill="#d8d8d8"/><clipPath id="c4933_427"><rect x="493.3" y="42.7" width="40.5" height="18.1"/></clipPath><g clip-path="url(#c4933_427)"><rect x="498" y="55.5" width="30" height="3" rx="1.5" fill="#c2c2c2" opacity="1" filter="url(#bl1)"/></g>
<rect x="535.1" y="42.7" width="42.8" height="18.1" fill="#d4d4d4"/><clipPath id="c5351_427"><rect x="535.1" y="42.7" width="42.8" height="18.1"/></clipPath><g clip-path="url(#c5351_427)"><rect x="540" y="54.3" width="32" height="3.4" rx="1.7" fill="#b0b0b0" opacity="1" filter="url(#bl1)"/></g>
<rect x="580.4" y="42.7" width="40.5" height="18.1" fill="#dadada"/><clipPath id="c5804_427"><rect x="580.4" y="42.7" width="40.5" height="18.1"/></clipPath><g clip-path="url(#c5804_427)"><rect x="585" y="54.5" width="30" height="3" rx="1.5" fill="#c2c2c2" opacity="1" filter="url(#bl1)"/></g>
<rect x="404.5" y="63.5" width="43.9" height="21.5" fill="#cecece"/><clipPath id="c4045_635"><rect x="404.5" y="63.5" width="43.9" height="21.5"/></clipPath><g clip-path="url(#c4045_635)"><rect x="409" y="71.1" width="34" height="5" rx="2.5" fill="#1e1e1e" opacity="1" filter="url(#bl0_8)"/></g>
<rect x="450.7" y="63.5" width="41.1" height="21.5" fill="#cacaca"/><clipPath id="c4507_635"><rect x="450.7" y="63.5" width="41.1" height="21.5"/></clipPath><g clip-path="url(#c4507_635)"><rect x="456" y="73" width="30" height="6" rx="3" fill="#000" opacity="1" filter="url(#bl0_8)"/></g>
<rect x="493.3" y="63.5" width="40.5" height="21.5" fill="#d2d2d2"/><clipPath id="c4933_635"><rect x="493.3" y="63.5" width="40.5" height="21.5"/></clipPath><g clip-path="url(#c4933_635)"><rect x="497" y="73.65" width="32" height="5.5" rx="2.75" fill="#000" opacity="1" filter="url(#bl0_8)"/></g>
<rect x="535.1" y="63.5" width="42.8" height="21.5" fill="#cecece"/><clipPath id="c5351_635"><rect x="535.1" y="63.5" width="42.8" height="21.5"/></clipPath><g clip-path="url(#c5351_635)"><rect x="540" y="72.4" width="32" height="6.4" rx="3.2" fill="#000" opacity="1" filter="url(#bl0_8)"/></g>
<rect x="580.4" y="63.5" width="40.5" height="21.5" fill="#d4d4d4"/><clipPath id="c5804_635"><rect x="580.4" y="63.5" width="40.5" height="21.5"/></clipPath><g clip-path="url(#c5804_635)"><rect x="585" y="72.9" width="30" height="4.6" rx="2.3" fill="#0a0a0a" opacity="1" filter="url(#bl0_8)"/></g>
<path d="M315.6 5.6H312.6V54H315.6M312.6 30.9H309.4" stroke="#333" stroke-width="1.1" fill="none"/>
<text x="305.4" y="37.2" font-size="11.5" text-anchor="end" font-weight="normal" fill="#3d3d3d" textLength="23" lengthAdjust="spacingAndGlyphs" stroke="#3d3d3d" stroke-width="0.3">Nrf2</text>
<text x="388" y="19" font-size="11.5" text-anchor="end" font-weight="normal" fill="#3d3d3d" textLength="70.5" lengthAdjust="spacingAndGlyphs" stroke="#3d3d3d" stroke-width="0.3">100 kDa (p.u)</text>
<text x="339.1" y="35.4" font-size="11.5" text-anchor="end" font-weight="normal" fill="#3d3d3d" textLength="12.6" lengthAdjust="spacingAndGlyphs" stroke="#3d3d3d" stroke-width="0.3">65</text>
<path d="M340 32.1H350.2M346.8 28.9L350.2 32.1L346.8 35.3" stroke="#3d3d3d" stroke-width="1.15" fill="none"/>
<text x="387.6" y="35.4" font-size="11.5" text-anchor="end" font-weight="normal" fill="#3d3d3d" textLength="35.8" lengthAdjust="spacingAndGlyphs" stroke="#3d3d3d" stroke-width="0.3">68 kDa</text>
<text x="388" y="49.9" font-size="11.5" text-anchor="end" font-weight="normal" fill="#3d3d3d" textLength="37" lengthAdjust="spacingAndGlyphs" stroke="#3d3d3d" stroke-width="0.3">61 kDa</text>
<text x="388" y="66.7" font-size="11.5" text-anchor="end" font-weight="normal" fill="#3d3d3d" textLength="38" lengthAdjust="spacingAndGlyphs" stroke="#3d3d3d" stroke-width="0.3">β-actin</text>
<rect x="95.7" y="308" width="33.7" height="20.2" fill="#e6e6e6"/><clipPath id="c957_3080"><rect x="95.7" y="308" width="33.7" height="20.2"/></clipPath><g clip-path="url(#c957_3080)"><rect x="100" y="318.75" width="24" height="2.5" rx="1.25" fill="#d4d4d4" opacity="1" filter="url(#bl1)"/></g>
<rect x="131.7" y="308" width="33" height="20.2" fill="#e4e4e4"/><clipPath id="c1317_3080"><rect x="131.7" y="308" width="33" height="20.2"/></clipPath><g clip-path="url(#c1317_3080)"><rect x="136" y="318.5" width="25" height="2.6" rx="1.3" fill="#c2c2c2" opacity="1" filter="url(#bl1)"/></g>
<rect x="166.2" y="308" width="34.5" height="20.2" fill="#e8e8e8"/><clipPath id="c1662_3080"><rect x="166.2" y="308" width="34.5" height="20.2"/></clipPath><g clip-path="url(#c1662_3080)"><rect x="171" y="318.75" width="24" height="2.5" rx="1.25" fill="#dcdcdc" opacity="1" filter="url(#bl1)"/></g>
<rect x="202.7" y="308" width="33.9" height="20.2" fill="#e6e6e6"/><clipPath id="c2027_3080"><rect x="202.7" y="308" width="33.9" height="20.2"/></clipPath><g clip-path="url(#c2027_3080)"><rect x="208" y="323.1" width="24" height="2.6" rx="1.3" fill="#cdcdcd" opacity="1" filter="url(#bl1)"/></g>
<rect x="238.6" y="308" width="33.9" height="20.2" fill="#e8e8e8"/><clipPath id="c2386_3080"><rect x="238.6" y="308" width="33.9" height="20.2"/></clipPath><g clip-path="url(#c2386_3080)"><rect x="244" y="318.75" width="22" height="2.5" rx="1.25" fill="#dedede" opacity="1" filter="url(#bl1)"/></g>
<rect x="95.7" y="331" width="33.7" height="20.7" fill="#e2e2e2"/><clipPath id="c957_3310"><rect x="95.7" y="331" width="33.7" height="20.7"/></clipPath><g clip-path="url(#c957_3310)"><rect x="100.4" y="338.9" width="26" height="5.4" rx="2.7" fill="#000" opacity="1" filter="url(#bl0_8)"/></g>
<rect x="131.7" y="331" width="33" height="20.7" fill="#e0e0e0"/><clipPath id="c1317_3310"><rect x="131.7" y="331" width="33" height="20.7"/></clipPath><g clip-path="url(#c1317_3310)"><rect x="134" y="339.4" width="27" height="4.8" rx="2.4" fill="#000" opacity="1" filter="url(#bl0_8)"/></g>
<rect x="166.2" y="331" width="34.5" height="20.7" fill="#e2e2e2"/><clipPath id="c1662_3310"><rect x="166.2" y="331" width="34.5" height="20.7"/></clipPath><g clip-path="url(#c1662_3310)"><rect x="169.5" y="339.9" width="28" height="4.6" rx="2.3" fill="#000" opacity="1" filter="url(#bl0_8)"/></g>
<rect x="202.7" y="331" width="33.9" height="20.7" fill="#e0e0e0"/><clipPath id="c2027_3310"><rect x="202.7" y="331" width="33.9" height="20.7"/></clipPath><g clip-path="url(#c2027_3310)"><rect x="205.9" y="340.5" width="27" height="4.6" rx="2.3" fill="#000" opacity="1" filter="url(#bl0_8)"/></g>
<rect x="238.6" y="331" width="33.9" height="20.7" fill="#e4e4e4"/><clipPath id="c2386_3310"><rect x="238.6" y="331" width="33.9" height="20.7"/></clipPath><g clip-path="url(#c2386_3310)"><rect x="242.3" y="339" width="25" height="4.2" rx="2.1" fill="#000" opacity="1" filter="url(#bl0_8)"/></g>
<text x="82.2" y="319" font-size="11" text-anchor="end" font-weight="normal" fill="#3d3d3d" textLength="38.8" lengthAdjust="spacingAndGlyphs" stroke="#3d3d3d" stroke-width="0.3">SREPB1</text>
<text x="82.6" y="335" font-size="11" text-anchor="end" font-weight="normal" fill="#3d3d3d" textLength="38" lengthAdjust="spacingAndGlyphs" stroke="#3d3d3d" stroke-width="0.3">β-actin</text>
<linearGradient id="g175_4067" x1="0" y1="0" x2="0" y2="1"><stop offset="0" stop-color="#e0e0e0"/><stop offset="1" stop-color="#e4e4e4"/></linearGradient><rect x="376.3" y="304" width="35.6" height="21" fill="url(#g175_4067)"/><clipPath id="c3763_3040"><rect x="376.3" y="304" width="35.6" height="21"/></clipPath><g clip-path="url(#c3763_3040)"><rect x="379" y="315.5" width="30" height="3" rx="1.5" fill="#d4d4d4" opacity="1" filter="url(#bl1_5)"/></g>
<linearGradient id="g176_4441" x1="0" y1="0" x2="0" y2="1"><stop offset="0" stop-color="#dcdcdc"/><stop offset="1" stop-color="#e0e0e0"/></linearGradient><rect x="413.7" y="304" width="34.1" height="21" fill="url(#g176_4441)"/><clipPath id="c4137_3040"><rect x="413.7" y="304" width="34.1" height="21"/></clipPath><g clip-path="url(#c4137_3040)"><rect x="416" y="317" width="28" height="4" rx="2" fill="#cecece" opacity="1" filter="url(#bl1_5)"/></g>
<linearGradient id="g177_4800" x1="0" y1="0" x2="0" y2="1"><stop offset="0" stop-color="#e0e0e0"/><stop offset="1" stop-color="#e4e4e4"/></linearGradient><rect x="449.6" y="304" width="33.1" height="21" fill="url(#g177_4800)"/><clipPath id="c4496_3040"><rect x="449.6" y="304" width="33.1" height="21"/></clipPath><g clip-path="url(#c4496_3040)"><rect x="452" y="315.5" width="28" height="3" rx="1.5" fill="#d6d6d6" opacity="1" filter="url(#bl1_5)"/></g>
<linearGradient id="g178_5149" x1="0" y1="0" x2="0" y2="1"><stop offset="0" stop-color="#dcdcdc"/><stop offset="1" stop-color="#e0e0e0"/></linearGradient><rect x="484.5" y="304" width="31.6" height="21" fill="url(#g178_5149)"/><clipPath id="c4845_3040"><rect x="484.5" y="304" width="31.6" height="21"/></clipPath><g clip-path="url(#c4845_3040)"><rect x="486" y="316" width="28" height="4" rx="2" fill="#cecece" opacity="1" filter="url(#bl1_5)"/></g>
<linearGradient id="g179_5483" x1="0" y1="0" x2="0" y2="1"><stop offset="0" stop-color="#e0e0e0"/><stop offset="1" stop-color="#e4e4e4"/></linearGradient><rect x="517.9" y="304" width="34.5" height="21" fill="url(#g179_5483)"/><clipPath id="c5179_3040"><rect x="517.9" y="304" width="34.5" height="21"/></clipPath><g clip-path="url(#c5179_3040)"><rect x="521" y="315.5" width="28" height="3" rx="1.5" fill="#d6d6d6" opacity="1" filter="url(#bl1_5)"/></g>
<linearGradient id="g180_4093" x1="0" y1="0" x2="0" y2="1"><stop offset="0" stop-color="#d4d4d4"/><stop offset="1" stop-color="#dcdcdc"/></linearGradient><rect x="376.3" y="330" width="35.6" height="21" fill="url(#g180_4093)"/><clipPath id="c3763_3300"><rect x="376.3" y="330" width="35.6" height="21"/></clipPath><g clip-path="url(#c3763_3300)"><rect x="378.25" y="337.6" width="29.5" height="6" rx="3" fill="#000" opacity="1" filter="url(#bl0_8)"/></g>
<linearGradient id="g181_4467" x1="0" y1="0" x2="0" y2="1"><stop offset="0" stop-color="#d6d6d6"/><stop offset="1" stop-color="#dcdcdc"/></linearGradient><rect x="413.7" y="330" width="34.1" height="21" fill="url(#g181_4467)"/><clipPath id="c4137_3300"><rect x="413.7" y="330" width="34.1" height="21"/></clipPath><g clip-path="url(#c4137_3300)"><rect x="416.2" y="339.4" width="30" height="4.4" rx="2.2" fill="#000" opacity="1" filter="url(#bl0_8)"/></g>
<linearGradient id="g182_4826" x1="0" y1="0" x2="0" y2="1"><stop offset="0" stop-color="#d8d8d8"/><stop offset="1" stop-color="#dedede"/></linearGradient><rect x="449.6" y="330" width="33.1" height="21" fill="url(#g182_4826)"/><clipPath id="c4496_3300"><rect x="449.6" y="330" width="33.1" height="21"/></clipPath><g clip-path="url(#c4496_3300)"><rect x="452" y="339" width="27" height="5" rx="2.5" fill="#000" opacity="1" filter="url(#bl0_8)"/></g>
<linearGradient id="g183_5175" x1="0" y1="0" x2="0" y2="1"><stop offset="0" stop-color="#d4d4d4"/><stop offset="1" stop-color="#dcdcdc"/></linearGradient><rect x="484.5" y="330" width="31.6" height="21" fill="url(#g183_5175)"/><clipPath id="c4845_3300"><rect x="484.5" y="330" width="31.6" height="21"/></clipPath><g clip-path="url(#c4845_3300)"><rect x="485.6" y="337.4" width="28" height="5.8" rx="2.9" fill="#000" opacity="1" filter="url(#bl0_8)"/></g>
<linearGradient id="g184_5509" x1="0" y1="0" x2="0" y2="1"><stop offset="0" stop-color="#d6d6d6"/><stop offset="1" stop-color="#dcdcdc"/></linearGradient><rect x="517.9" y="330" width="34.5" height="21" fill="url(#g184_5509)"/><clipPath id="c5179_3300"><rect x="517.9" y="330" width="34.5" height="21"/></clipPath><g clip-path="url(#c5179_3300)"><rect x="520.5" y="338.1" width="31" height="7" rx="3.5" fill="#000" opacity="1" filter="url(#bl0_8)"/></g>
<text x="372.4" y="321.2" font-size="11" text-anchor="end" font-weight="normal" fill="#3d3d3d" textLength="40.7" lengthAdjust="spacingAndGlyphs" stroke="#3d3d3d" stroke-width="0.3">ChREBP</text>
<text x="372.4" y="336.6" font-size="11" text-anchor="end" font-weight="normal" fill="#3d3d3d" textLength="38.5" lengthAdjust="spacingAndGlyphs" stroke="#3d3d3d" stroke-width="0.3">β-actin</text>
<linearGradient id="g187_1107" x1="0" y1="0" x2="0" y2="1"><stop offset="0" stop-color="#d2d2d2"/><stop offset="1" stop-color="#cccccc"/></linearGradient><rect x="48.6" y="621.3" width="35.5" height="20.5" fill="url(#g187_1107)"/><clipPath id="c486_6213"><rect x="48.6" y="621.3" width="35.5" height="20.5"/></clipPath><g clip-path="url(#c486_6213)"><rect x="54" y="632.9" width="28" height="3" rx="1.5" fill="#b4b4b4" opacity="1" filter="url(#bl1_2)"/></g>
<linearGradient id="g188_1485" x1="0" y1="0" x2="0" y2="1"><stop offset="0" stop-color="#cbcbcb"/><stop offset="1" stop-color="#c8c8c8"/></linearGradient><rect x="86.4" y="621.3" width="32.7" height="20.5" fill="url(#g188_1485)"/><clipPath id="c864_6213"><rect x="86.4" y="621.3" width="32.7" height="20.5"/></clipPath><g clip-path="url(#c864_6213)"><rect x="90" y="630.5" width="28" height="5" rx="2.5" fill="#a6a6a6" opacity="1" filter="url(#bl1_8)"/></g>
<linearGradient id="g189_1834" x1="0" y1="0" x2="0" y2="1"><stop offset="0" stop-color="#c6c6c6"/><stop offset="1" stop-color="#c2c2c2"/></linearGradient><rect x="121.3" y="621.3" width="32.3" height="20.5" fill="url(#g189_1834)"/><clipPath id="c1213_6213"><rect x="121.3" y="621.3" width="32.3" height="20.5"/></clipPath><g clip-path="url(#c1213_6213)"><rect x="126" y="627.5" width="26" height="7" rx="3.5" fill="#7c7c7c" opacity="1" filter="url(#bl2)"/></g>
<linearGradient id="g190_2176" x1="0" y1="0" x2="0" y2="1"><stop offset="0" stop-color="#cecece"/><stop offset="1" stop-color="#cacaca"/></linearGradient><rect x="155.5" y="621.3" width="33.4" height="20.5" fill="url(#g190_2176)"/><clipPath id="c1555_6213"><rect x="155.5" y="621.3" width="33.4" height="20.5"/></clipPath><g clip-path="url(#c1555_6213)"><rect x="161" y="628.5" width="26" height="3" rx="1.5" fill="#bcbcbc" opacity="1" filter="url(#bl1_5)"/></g>
<linearGradient id="g191_2525" x1="0" y1="0" x2="0" y2="1"><stop offset="0" stop-color="#d0d0d0"/><stop offset="1" stop-color="#cccccc"/></linearGradient><rect x="190.4" y="621.3" width="34.6" height="20.5" fill="url(#g191_2525)"/><clipPath id="c1904_6213"><rect x="190.4" y="621.3" width="34.6" height="20.5"/></clipPath><g clip-path="url(#c1904_6213)"><rect x="196" y="626.3" width="26" height="3" rx="1.5" fill="#bcbcbc" opacity="1" filter="url(#bl1_5)"/></g>
<linearGradient id="g192_1129" x1="0" y1="0" x2="0" y2="1"><stop offset="0" stop-color="#acacac"/><stop offset="1" stop-color="#b0b0b0"/></linearGradient><rect x="48.6" y="643.6" width="35.5" height="20.2" fill="url(#g192_1129)"/><clipPath id="c486_6436"><rect x="48.6" y="643.6" width="35.5" height="20.2"/></clipPath><g clip-path="url(#c486_6436)"><rect x="53.5" y="652.9" width="26" height="3.8" rx="1.9" fill="#2c2c2c" opacity="1" filter="url(#bl0_8)"/></g>
<linearGradient id="g193_1507" x1="0" y1="0" x2="0" y2="1"><stop offset="0" stop-color="#a8a8a8"/><stop offset="1" stop-color="#acacac"/></linearGradient><rect x="86.4" y="643.6" width="32.7" height="20.2" fill="url(#g193_1507)"/><clipPath id="c864_6436"><rect x="86.4" y="643.6" width="32.7" height="20.2"/></clipPath><g clip-path="url(#c864_6436)"><rect x="89.55" y="652.2" width="26.5" height="4.4" rx="2.2" fill="#000" opacity="1" filter="url(#bl0_8)"/></g>
<linearGradient id="g194_1856" x1="0" y1="0" x2="0" y2="1"><stop offset="0" stop-color="#a4a4a4"/><stop offset="1" stop-color="#a8a8a8"/></linearGradient><rect x="121.3" y="643.6" width="32.3" height="20.2" fill="url(#g194_1856)"/><clipPath id="c1213_6436"><rect x="121.3" y="643.6" width="32.3" height="20.2"/></clipPath><g clip-path="url(#c1213_6436)"><rect x="124.55" y="653.3" width="24.5" height="3.8" rx="1.9" fill="#0a0a0a" opacity="1" filter="url(#bl0_8)"/></g>
<linearGradient id="g195_2198" x1="0" y1="0" x2="0" y2="1"><stop offset="0" stop-color="#acacac"/><stop offset="1" stop-color="#b0b0b0"/></linearGradient><rect x="155.5" y="643.6" width="33.4" height="20.2" fill="url(#g195_2198)"/><clipPath id="c1555_6436"><rect x="155.5" y="643.6" width="33.4" height="20.2"/></clipPath><g clip-path="url(#c1555_6436)"><rect x="158.5" y="654.6" width="27" height="4" rx="2" fill="#0a0a0a" opacity="1" filter="url(#bl0_8)"/></g>
<linearGradient id="g196_2547" x1="0" y1="0" x2="0" y2="1"><stop offset="0" stop-color="#acacac"/><stop offset="1" stop-color="#b0b0b0"/></linearGradient><rect x="190.4" y="643.6" width="34.6" height="20.2" fill="url(#g196_2547)"/><clipPath id="c1904_6436"><rect x="190.4" y="643.6" width="34.6" height="20.2"/></clipPath><g clip-path="url(#c1904_6436)"><rect x="194.3" y="653.5" width="27" height="4" rx="2" fill="#0a0a0a" opacity="1" filter="url(#bl0_8)"/></g>
<text x="40.7" y="637" font-size="11" text-anchor="end" font-weight="normal" fill="#3d3d3d" textLength="40" lengthAdjust="spacingAndGlyphs" stroke="#3d3d3d" stroke-width="0.3">SREPB2</text>
<text x="39.2" y="652.2" font-size="11" text-anchor="end" font-weight="normal" fill="#3d3d3d" textLength="37.4" lengthAdjust="spacingAndGlyphs" stroke="#3d3d3d" stroke-width="0.3">β-actin</text>
</svg></body></html>
